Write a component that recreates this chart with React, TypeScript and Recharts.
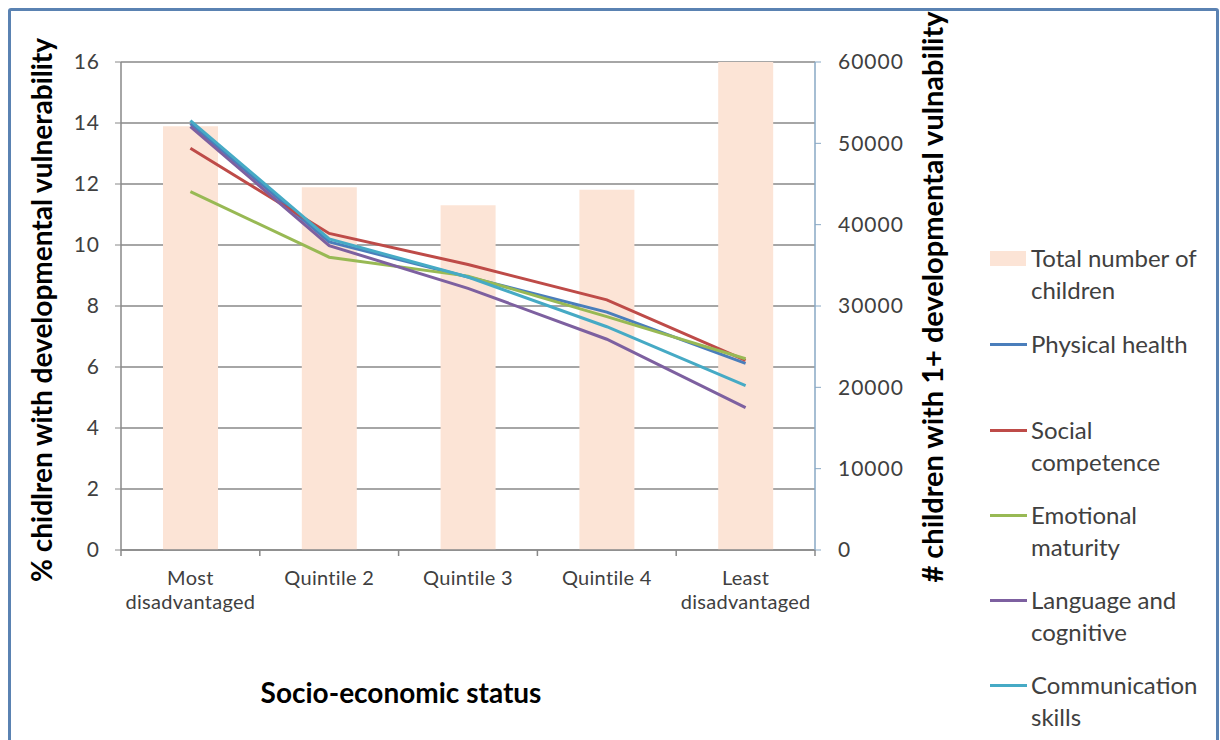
import React from "react";
import { ComposedChart, Bar, Line, XAxis, YAxis, CartesianGrid } from "recharts";

const categories = ["Most\ndisadvantaged", "Quintile 2", "Quintile 3", "Quintile 4", "Least\ndisadvantaged"];
const totalChildren = [52100, 44600, 42400, 44300, 60000];
const physicalHealth = [13.98, 10.1, 8.95, 7.8, 6.12];
const socialCompetence = [13.17, 10.38, 9.36, 8.2, 6.22];
const emotionalMaturity = [11.75, 9.6, 8.98, 7.65, 6.27];
const languageCognitive = [13.88, 9.98, 8.58, 6.91, 4.67];
const communicationSkills = [14.08, 10.2, 8.95, 7.32, 5.39];

const leftTicks = [0, 2, 4, 6, 8, 10, 12, 14, 16];
const rightTicks = [0, 10000, 20000, 30000, 40000, 50000, 60000];

const FONT = "Lato, 'Open Sans', sans-serif";

const series = [
  { key: "physical", name: "Physical health", color: "#4a7ebb", values: physicalHealth },
  { key: "social", name: "Social competence", color: "#be4b48", values: socialCompetence },
  { key: "emotional", name: "Emotional maturity", color: "#98b954", values: emotionalMaturity },
  { key: "language", name: "Language and cognitive", color: "#7d60a0", values: languageCognitive },
  { key: "communication", name: "Communication skills", color: "#46aac5", values: communicationSkills },
];

const data = categories.map((c, i) => {
  const row: any = { category: c, total: totalChildren[i] };
  series.forEach((s) => (row[s.key] = s.values[i]));
  return row;
});

const CatTick = (props: any) => {
  const { x, y, payload, index, width, visibleTicksCount } = props;
  const lines = String(payload.value).split("\n");
  const count = visibleTicksCount || categories.length;
  const half = Number.isFinite(width) && width > 0 ? width / count / 2 : payload.offset || 0;
  const axisY = y - 8;
  return (
    <g>
      <line x1={x - half} x2={x - half} y1={axisY} y2={axisY + 6} stroke="#888888" strokeWidth={1.5} />
      {index === count - 1 && (
        <line x1={x + half} x2={x + half} y1={axisY} y2={axisY + 6} stroke="#888888" strokeWidth={1.5} />
      )}
      <text x={x} y={y} textAnchor="middle" fontSize={20} letterSpacing={0.3} fill="#404040" fontFamily={FONT}>
        {lines.map((l, i) => (
          <tspan key={i} x={x} dy={i === 0 ? 27 : 24}>
            {l}
          </tspan>
        ))}
      </text>
    </g>
  );
};

const legendItems = [
  { name: ["Total number of", "children"], color: "#fce4d6", bar: true, y: 258 },
  { name: ["Physical health"], color: "#4a7ebb", y: 344 },
  { name: ["Social", "competence"], color: "#be4b48", y: 430 },
  { name: ["Emotional", "maturity"], color: "#98b954", y: 515 },
  { name: ["Language and", "cognitive"], color: "#7d60a0", y: 600 },
  { name: ["Communication", "skills"], color: "#46aac5", y: 685 },
];

export default function App() {
  return (
    <div style={{ position: "absolute", left: 0, top: 0, width: 1220, height: 740, background: "#fff", overflow: "hidden", fontFamily: FONT }}>
      <div style={{ position: "absolute", left: 8, top: 8, width: 1205, height: 760, border: "3px solid #5a82b2", borderRadius: 3 }} />
      <div style={{ position: "absolute", left: 0, top: 0 }}>
        <ComposedChart width={1220} height={740} data={data} margin={{ top: 62, right: 345, bottom: 110, left: 61 }} barCategoryGap="30%">
          <CartesianGrid yAxisId="left" xAxisId="cat" vertical={false} stroke="#888888" strokeWidth={1.5} />
          <XAxis xAxisId="cat" dataKey="category" tick={<CatTick />} tickLine={false} axisLine={{ stroke: "#888888", strokeWidth: 1.5 }} interval={0} height={80} />
          <YAxis yAxisId="left" domain={[0, 16]} ticks={leftTicks} width={60} tickSize={6} tickMargin={15} axisLine={{ stroke: "#888888", strokeWidth: 1.5 }} tickLine={{ stroke: "#888888" }} tick={{ fontSize: 21, fill: "#404040", fontFamily: FONT, letterSpacing: 1 }} interval={0} />
          <YAxis yAxisId="right" orientation="right" domain={[0, 60000]} ticks={rightTicks} width={60} tickSize={6} tickMargin={17} axisLine={{ stroke: "#88a8c4", strokeWidth: 1.5 }} tickLine={{ stroke: "#88a8c4" }} tick={{ fontSize: 21, fill: "#404040", fontFamily: FONT, textAnchor: "start", letterSpacing: 1 }} interval={0} />
          <Bar yAxisId="right" xAxisId="cat" dataKey="total" name="Total number of children" fill="#fce4d6" barSize={55} isAnimationActive={false} />
          {series.map((s) => (
            <Line key={s.key} yAxisId="left" xAxisId="cat" dataKey={s.key} name={s.name} stroke={s.color} strokeWidth={3} dot={false} activeDot={false} isAnimationActive={false} />
          ))}
        </ComposedChart>
      </div>
      <div style={{ position: "absolute", left: 41, top: 310, transform: "translate(-50%, -50%) rotate(-90deg)", whiteSpace: "nowrap", fontWeight: 700, fontSize: 28, color: "#000" }}>
        % chidlren with developmental vulnerability
      </div>
      <div style={{ position: "absolute", left: 931, top: 297, transform: "translate(-50%, -50%) rotate(-90deg)", whiteSpace: "nowrap", fontWeight: 700, fontSize: 29, color: "#000" }}>
        # children with 1+ developmental vulnability
      </div>
      <div style={{ position: "absolute", left: 401, top: 692, transform: "translate(-50%, -50%)", whiteSpace: "nowrap", fontWeight: 700, fontSize: 28, color: "#000" }}>
        Socio-economic status
      </div>
      {legendItems.map((it, i) => (
        <div key={i} style={{ position: "absolute", left: 990, top: it.y - 16 }}>
          {it.bar ? (
            <div style={{ position: "absolute", left: 0, top: 9, width: 36, height: 15, background: it.color }} />
          ) : (
            <div style={{ position: "absolute", left: 0, top: 15, width: 37, height: 3, background: it.color }} />
          )}
          <div style={{ position: "absolute", left: 41, top: 0, whiteSpace: "nowrap", fontSize: 24, lineHeight: "32px", color: "#404040" }}>
            {it.name.map((n, j) => (
              <div key={j}>{n}</div>
            ))}
          </div>
        </div>
      ))}
    </div>
  );
}
